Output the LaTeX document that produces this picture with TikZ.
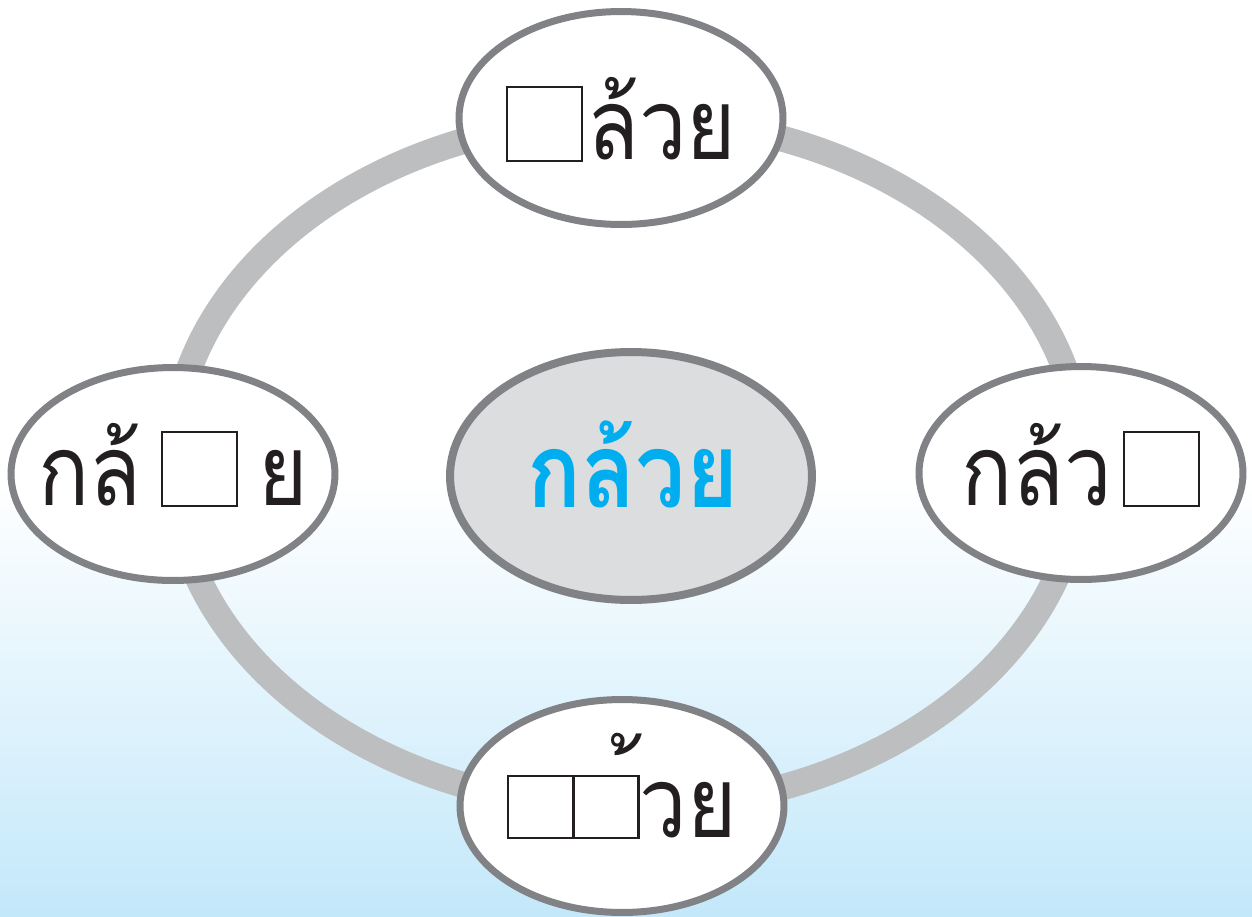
\documentclass[tikz,border=0pt]{standalone}
\usepackage{fontspec}
\usetikzlibrary{shapes.geometric}
\newfontfamily\thaifont[Script=Thai,FakeStretch=0.86]{Loma}
\definecolor{ringc}{HTML}{BCBEC0}
\definecolor{edgec}{HTML}{808285}
\definecolor{centfill}{HTML}{DCDDDF}
\definecolor{thaiblue}{HTML}{00AEEF}
\definecolor{inkc}{HTML}{231F20}
\definecolor{bgblue}{HTML}{C3E8FA}
\newcommand\sqb[2]{{\setlength\fboxsep{0pt}\setlength\fboxrule{1.2pt}\fbox{\rule{0pt}{#2}\rule{#1}{0pt}}}}
\newcommand\inell[2]{\makebox[0pt]{\raisebox{-#1}[0pt][0pt]{#2}}}
\tikzset{
  outer/.style={ellipse, draw=edgec, line width=0.14cm, fill=white, inner sep=0pt,
    minimum width=6.48cm, minimum height=4.26cm, text=inkc,
    font=\thaifont\fontsize{56}{60}\selectfont},
  centre/.style={ellipse, draw=edgec, line width=0.16cm, fill=centfill, inner sep=0pt,
    minimum width=7.24cm, minimum height=4.96cm, text=thaiblue,
    font=\thaifont\bfseries\fontsize{59}{62}\selectfont},
  ring/.style={draw=ringc, line width=0.52cm}
}
\begin{document}
\begin{tikzpicture}[x=0.02cm,y=-0.02cm]
\useasboundingbox (0,0) rectangle (1252,917);
\fill[white] (0,0) rectangle (1252,480);
\shade[top color=white, bottom color=bgblue] (0,480) rectangle (1252,917);
\draw[ring] (627,463) ellipse (9.1cm and 6.9cm);
\node[centre] (c) at (631,476) {\inell{0.62cm}{\kern0.08cm กล้วย}};
\node[outer] (t) at (621,118) {\inell{0.84cm}{\sqb{1.46cm}{1.44cm}\kern0.08cm ล้วย}};
\node[outer] (l) at (173,474) {\inell{0.62cm}{กล้\kern0.4cm\sqb{1.46cm}{1.44cm}\kern0.4cm ย}};
\node[outer] (r) at (1081,473) {\inell{0.64cm}{กล้ว\kern0.22cm\sqb{1.46cm}{1.44cm}}};
\node[outer] (b) at (622,806) {\inell{0.62cm}{\sqb{1.26cm}{1.2cm}\kern-1.2pt\sqb{1.26cm}{1.2cm}้วย}};
\end{tikzpicture}
\end{document}
